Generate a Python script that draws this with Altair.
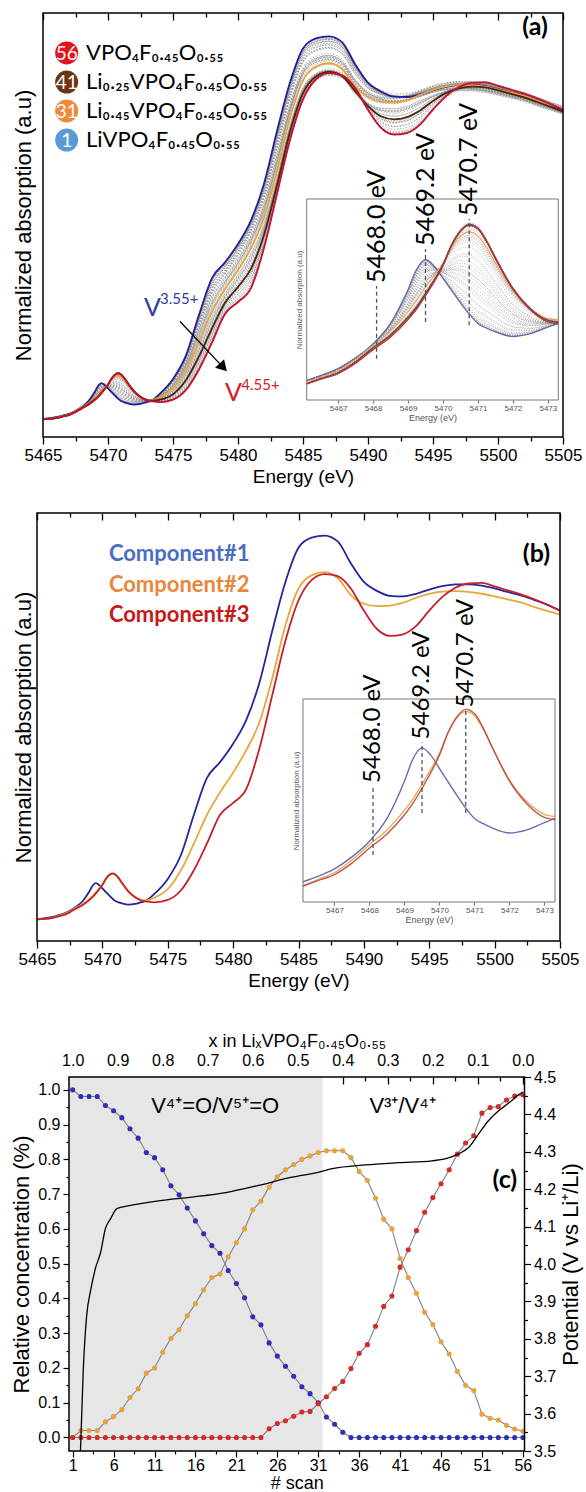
import altair as alt
import numpy as np
import pandas as pd

alt.data_transformers.disable_max_rows()

# ---------------------------------------------------------------------------
# Panels (a)/(b): energy grid (eV) and the three MCR components (normalized absorption)
# ---------------------------------------------------------------------------
energy = [5465, 5466.1, 5466.5, 5467, 5467.5, 5468, 5468.5, 5469, 5469.25, 5469.5,
          5469.75, 5470, 5470.25, 5470.5, 5470.75, 5471, 5471.25, 5471.5, 5472, 5472.5,
          5473, 5473.3, 5474, 5475, 5476, 5477, 5478, 5479, 5480, 5481,
          5482, 5483, 5484, 5485, 5486, 5487, 5488, 5489, 5490, 5491,
          5492, 5493, 5494, 5495, 5496, 5497, 5498, 5499, 5500, 5501,
          5502, 5503, 5504, 5505]

comp1 = [0.053, 0.061, 0.066, 0.0735, 0.085, 0.100, 0.122, 0.158, 0.180, 0.190,
         0.183, 0.170, 0.157, 0.144, 0.132, 0.122, 0.117, 0.113, 0.108, 0.111,
         0.118, 0.122, 0.150, 0.206, 0.296, 0.450, 0.590, 0.650, 0.720, 0.810,
         0.950, 1.150, 1.335, 1.465, 1.503, 1.511, 1.489, 1.406, 1.335, 1.301,
         1.282, 1.280, 1.290, 1.306, 1.319, 1.326, 1.326, 1.321, 1.310, 1.297,
         1.284, 1.267, 1.249, 1.226]

comp2 = [0.052, 0.057, 0.063, 0.070, 0.082, 0.097, 0.111, 0.130, 0.141, 0.155,
         0.169, 0.185, 0.205, 0.219, 0.225, 0.221, 0.208, 0.191, 0.159, 0.138,
         0.126, 0.124, 0.135, 0.167, 0.238, 0.340, 0.450, 0.535, 0.610, 0.695,
         0.800, 0.970, 1.170, 1.310, 1.360, 1.372, 1.350, 1.285, 1.252, 1.243,
         1.245, 1.256, 1.275, 1.290, 1.298, 1.300, 1.297, 1.290, 1.280, 1.269,
         1.257, 1.240, 1.225, 1.211]

comp3 = [0.052, 0.057, 0.062, 0.068, 0.079, 0.0935, 0.107, 0.1256, 0.137, 0.151,
         0.166, 0.183, 0.205, 0.220, 0.227, 0.223, 0.209, 0.191, 0.158, 0.136,
         0.123, 0.121, 0.117, 0.126, 0.162, 0.239, 0.341, 0.450, 0.495, 0.547,
         0.700, 0.906, 1.111, 1.265, 1.342, 1.365, 1.357, 1.310, 1.226, 1.156,
         1.130, 1.136, 1.168, 1.226, 1.278, 1.313, 1.329, 1.331, 1.318, 1.303,
         1.288, 1.270, 1.249, 1.226]

comp_names = ["Component#1", "Component#2", "Component#3"]

# ---------------------------------------------------------------------------
# Panel (c): relative concentration of each component for the 56 scans
# ---------------------------------------------------------------------------
scans = list(range(1, 57))
conc1 = [1.0, 0.981, 0.981, 0.981, 0.955, 0.94, 0.92, 0.888, 0.861, 0.82,
         0.805, 0.77, 0.724, 0.698, 0.66, 0.623, 0.586, 0.552, 0.53, 0.48,
         0.443, 0.402, 0.347, 0.324, 0.272, 0.234, 0.205, 0.176, 0.146, 0.126,
         0.10, 0.059, 0.038, 0.015, 0.0, 0.0, 0.0, 0.0, 0.0, 0.0,
         0.0, 0.0, 0.0, 0.0, 0.0, 0.0, 0.0, 0.0, 0.0, 0.0,
         0.0, 0.0, 0.0, 0.0, 0.0, 0.0]
conc2 = [0.0, 0.02, 0.02, 0.02, 0.045, 0.06, 0.08, 0.115, 0.14, 0.185,
         0.20, 0.245, 0.285, 0.31, 0.35, 0.385, 0.425, 0.46, 0.47, 0.52,
         0.56, 0.60, 0.655, 0.68, 0.72, 0.75, 0.77, 0.785, 0.80, 0.81,
         0.82, 0.825, 0.825, 0.825, 0.805, 0.765, 0.74, 0.688, 0.628, 0.60,
         0.515, 0.46, 0.415, 0.36, 0.325, 0.275, 0.24, 0.19, 0.15, 0.135,
         0.067, 0.055, 0.05, 0.035, 0.024, 0.018]
conc3 = [0.0, 0.0, 0.0, 0.0, 0.0, 0.0, 0.0, 0.0, 0.0, 0.0,
         0.0, 0.0, 0.0, 0.0, 0.0, 0.0, 0.0, 0.0, 0.0, 0.0,
         0.0, 0.0, 0.0, 0.0, 0.025, 0.04, 0.048, 0.061, 0.073, 0.075,
         0.097, 0.117, 0.141, 0.161, 0.198, 0.242, 0.267, 0.32, 0.377, 0.407,
         0.49, 0.54, 0.595, 0.648, 0.69, 0.73, 0.77, 0.815, 0.847, 0.868,
         0.933, 0.949, 0.952, 0.971, 0.982, 0.986]

# potential (V vs Li+/Li) along the scans
pot_scan = [1.95, 2.3, 2.7, 3.2, 3.8, 4.4, 5.0, 5.6, 6.4, 7.9,
            11.5, 15.6, 19.7, 23.7, 27.8, 31.0, 32.7, 36.8, 40.8, 44.9,
            46.5, 48.2, 49.4, 50.6, 51.8, 53.0, 54.3, 55.5, 56.0]
pot_volt = [3.50, 3.72, 3.86, 3.93, 3.99, 4.03, 4.095, 4.12, 4.148, 4.156,
            4.169, 4.179, 4.191, 4.21, 4.232, 4.245, 4.255, 4.265, 4.271, 4.276,
            4.281, 4.295, 4.312, 4.348, 4.383, 4.409, 4.431, 4.453, 4.46]

# highlighted scans of panel (a)
hl_scans = [56, 41, 31, 1]
hl_labels = ["VPO₄F₀.₄₅O₀.₅₅", "Li₀.₂₅VPO₄F₀.₄₅O₀.₅₅",
             "Li₀.₄₅VPO₄F₀.₄₅O₀.₅₅", "LiVPO₄F₀.₄₅O₀.₅₅"]

# pre-edge annotations
pe_energy = [5468.1, 5469.5, 5470.75]
pe_labels = ["5468.0 eV", "5469.2 eV", "5470.7 eV"]

# tick values
e_ticks = [5465, 5467.5, 5470, 5472.5, 5475, 5477.5, 5480, 5482.5, 5485, 5487.5,
           5490, 5492.5, 5495, 5497.5, 5500, 5502.5, 5505]
ins_ticks = [5467, 5468, 5469, 5470, 5471, 5472, 5473]
scan_ticks = [1, 3.5, 6, 8.5, 11, 13.5, 16, 18.5, 21, 23.5, 26, 28.5, 31, 33.5,
              36, 38.5, 41, 43.5, 46, 48.5, 51, 53.5, 56]
frac_ticks = [0.0, 0.05, 0.1, 0.15, 0.2, 0.25, 0.3, 0.35, 0.4, 0.45, 0.5,
              0.55, 0.6, 0.65, 0.7, 0.75, 0.8, 0.85, 0.9, 0.95, 1.0]
volt_ticks = [3.5, 3.55, 3.6, 3.65, 3.7, 3.75, 3.8, 3.85, 3.9, 3.95, 4.0,
              4.05, 4.1, 4.15, 4.2, 4.25, 4.3, 4.35, 4.4, 4.45, 4.5]

# ---------------------------------------------------------------------------
# derived tables
# ---------------------------------------------------------------------------
C = np.array([comp1, comp2, comp3])
W = np.array([conc1, conc2, conc3]).T
mix = W @ C
spectra = pd.DataFrame([{"E": e, "mu": float(mix[i, j]), "scan": s}
                        for i, s in enumerate(scans) for j, e in enumerate(energy)])
comps = pd.DataFrame([{"E": e, "mu": v, "comp": n}
                      for n, arr in zip(comp_names, [comp1, comp2, comp3])
                      for e, v in zip(energy, arr)])
conc = pd.DataFrame([{"scan": s, "c": v, "comp": n}
                     for n, arr in zip(comp_names, [conc1, conc2, conc3])
                     for s, v in zip(scans, arr)])
pot = pd.DataFrame({"scan": pot_scan, "V": pot_volt})

# ---------------------------------------------------------------------------
# canvas and panel geometry
# ---------------------------------------------------------------------------
CW, CH = 586, 1492
FA = "Liberation Sans"
FT = "Lato"
E_LO, E_HI = 5466.1, 5473.3


def S(domain, rng):
    return alt.Scale(domain=domain, range=rng, nice=False, zero=False)


XA = S([5465, 5505], [43, 563]);          YA = S([-0.0152, 1.6], [437, 13])
XIA = S([E_LO, E_HI], [306.7, 558.3]);    YIA = S([0.040, 0.255], [400, 199])
XB = S([5465, 5505], [37, 560]);          YB = S([-0.03, 1.597], [941, 513])
XIB = S([E_LO, E_HI], [303, 555]);        YIB = S([0.0416, 0.237], [902, 699])
XC = S([0.55, 56.2], [69, 524.5]);        YC = S([-0.039, 1.037], [1451, 1077])
YV = S([3.5, 4.5], [1451, 1077]);         XL = S([-0.0036, 1.0082], [524.5, 69])


def tsize(test, major, minor):
    return {"condition": {"test": test, "value": major}, "value": minor}


E_MAJ = "datum.value % 5 === 0"
F_MAJ = "round(datum.value * 100) % 10 === 0"
S_MAJ = "(datum.value - 1) % 5 === 0"


def energy_axis(ypix):
    return alt.Axis(orient="bottom", offset=ypix - CH, values=e_ticks, format="d",
                    labelExpr=f"{E_MAJ} ? datum.label : ''",
                    tickSize=tsize(E_MAJ, 7, 4), tickWidth=1.3,
                    labelFlush=False, labelOverlap=False, domain=False, grid=False,
                    labelFontSize=17, labelPadding=3,
                    title="Energy (eV)", titleFontSize=19, titlePadding=4)


def inner_ticks(values, test, ypix):
    return alt.Axis(orient="bottom", offset=ypix - CH, values=values, labels=False,
                    tickSize=tsize(test, 7, 4), tickWidth=1.3,
                    domain=False, grid=False, title=None)


def absorb_axis(xpix, pad):
    return alt.Axis(orient="left", offset=-xpix, labels=False, ticks=False, domain=False,
                    grid=False, title="Normalized absorption (a.u)", titleFontSize=22,
                    titlePadding=pad)


def inset_x_axis(ypix):
    return alt.Axis(orient="bottom", offset=ypix - CH, values=ins_ticks, format="d",
                    tickSize=3, tickColor="#777777", labelFontSize=8, labelColor="#555555",
                    labelPadding=1, labelFlush=False, domain=False, grid=False,
                    title="Energy (eV)", titleFontSize=9, titleColor="#555555", titlePadding=1)


def inset_y_axis(xpix):
    return alt.Axis(orient="left", offset=-xpix, labels=False, ticks=False, domain=False,
                    grid=False, title="Normalized absorption (a.u)", titleFontSize=8,
                    titleColor="#555555", titlePadding=3)


def box(xs, ys, fill, stroke, width, xaxis=None, yaxis=None):
    d = pd.DataFrame({"x0": [xs.domain[0]], "x1": [xs.domain[1]],
                      "y0": [ys.domain[0]], "y1": [ys.domain[1]]})
    return alt.Chart(d).mark_rect(fill=fill, fillOpacity=1 if fill != "white" else 1,
                                  stroke=stroke, strokeWidth=width).encode(
        x=alt.X("x0:Q", scale=xs, axis=xaxis), x2="x1:Q",
        y=alt.Y("y0:Q", scale=ys, axis=yaxis), y2="y1:Q")


def frame(xs, ys, xaxis=None, yaxis=None):
    d = pd.DataFrame({"x0": [xs.domain[0]], "x1": [xs.domain[1]],
                      "y0": [ys.domain[0]], "y1": [ys.domain[1]]})
    return alt.Chart(d).mark_rect(fillOpacity=0, stroke="black", strokeWidth=1.5).encode(
        x=alt.X("x0:Q", scale=xs, axis=xaxis), x2="x1:Q",
        y=alt.Y("y0:Q", scale=ys, axis=yaxis), y2="y1:Q")


def ticks_only(values, xs, ys, axis):
    d = pd.DataFrame({"x": values, "y": [ys.domain[0]] * len(values)})
    return alt.Chart(d).mark_point(opacity=0, size=1).encode(
        x=alt.X("x:Q", scale=xs, axis=axis), y=alt.Y("y:Q", scale=ys, axis=None))


def text_layer(df, xs, ys, xf, yf, tf, **kw):
    return alt.Chart(df).mark_text(**kw).encode(
        x=alt.X(xf, scale=xs, axis=None), y=alt.Y(yf, scale=ys, axis=None), text=tf)


def inset_layers(df_gray, df_hl, hl_field, hl_dom, hl_rng, xs, ys, xpix, ypix,
                 pe_top, pe_bot, pe_size):
    d = pd.DataFrame({"x0": [xs.domain[0]], "x1": [xs.domain[1]],
                      "y0": [ys.domain[0]], "y1": [ys.domain[1]]})
    layers = [alt.Chart(d).mark_rect(fill="white", stroke="#777777", strokeWidth=1).encode(
        x=alt.X("x0:Q", scale=xs, axis=inset_x_axis(ypix)), x2="x1:Q",
        y=alt.Y("y0:Q", scale=ys, axis=inset_y_axis(xpix)), y2="y1:Q")]
    if df_gray is not None:
        layers.append(alt.Chart(df_gray).mark_line(
            color="#9a9a9a", strokeWidth=0.7, strokeDash=[1, 1.5], interpolate="monotone").encode(
            x=alt.X("E:Q", scale=xs, axis=None), y=alt.Y("mu:Q", scale=ys, axis=None),
            detail="scan:N"))
    layers.append(alt.Chart(df_hl).mark_line(strokeWidth=1.4, opacity=0.9,
                                             interpolate="monotone").encode(
        x=alt.X("E:Q", scale=xs, axis=None), y=alt.Y("mu:Q", scale=ys, axis=None),
        color=alt.Color(hl_field, scale=alt.Scale(domain=hl_dom, range=hl_rng), legend=None),
        detail=hl_field))
    pe = pd.DataFrame({"E": pe_energy, "top": pe_top, "bot": pe_bot, "label": pe_labels})
    layers.append(alt.Chart(pe).mark_rule(color="#555555", strokeDash=[4, 3],
                                          strokeWidth=1.3).encode(
        x=alt.X("E:Q", scale=xs, axis=None), y=alt.Y("bot:Q", scale=ys, axis=None),
        y2="top:Q"))
    layers.append(text_layer(pe, xs, ys, "E:Q", "top:Q", "label:N", angle=270, align="left",
                             baseline="middle", font=FT, fontSize=pe_size, dx=3,
                             color="black"))
    return layers


# ---------------------------------------------------------------------------
# Panel (a)
# ---------------------------------------------------------------------------
gray_df = spectra[~spectra.scan.isin(hl_scans)]
hl_df = spectra[spectra.scan.isin(hl_scans)]

a_gray = alt.Chart(gray_df).mark_line(color="#8c8c8c", strokeWidth=0.8, strokeDash=[1.5, 1.5],
                                      opacity=0.85, interpolate="monotone").encode(
    x=alt.X("E:Q", scale=XA, axis=None), y=alt.Y("mu:Q", scale=YA, axis=None),
    detail="scan:N")
a_hl = alt.Chart(hl_df).mark_line(strokeWidth=1.8, interpolate="monotone").encode(
    x=alt.X("E:Q", scale=XA, axis=None), y=alt.Y("mu:Q", scale=YA, axis=None),
    color=alt.Color("scan:N", scale=alt.Scale(domain=hl_scans,
                    range=["#c8102e", "#4e220c", "#e8a33d", "#1f1f9c"]), legend=None),
    detail="scan:N")

leg = pd.DataFrame({"scan": hl_scans, "num": [str(s) for s in hl_scans], "label": hl_labels,
                    "Ec": [5466.82] * 4, "Et": [5468.31] * 4,
                    "mu": [1.448, 1.337, 1.227, 1.116]})
a_leg_c = alt.Chart(leg).mark_circle(size=530, opacity=1).encode(
    x=alt.X("Ec:Q", scale=XA, axis=None), y=alt.Y("mu:Q", scale=YA, axis=None),
    color=alt.Color("scan:N", scale=alt.Scale(domain=hl_scans,
                    range=["#e3141b", "#6a3612", "#ee8a3a", "#5b9bd5"]), legend=None))
a_leg_n = text_layer(leg, XA, YA, "Ec:Q", "mu:Q", "num:N", font=FT, fontSize=19,
                     color="white", align="center", baseline="middle", dy=1)
a_leg_t = text_layer(leg, XA, YA, "Et:Q", "mu:Q", "label:N", font=FT, fontSize=22,
                     color="black", align="left", baseline="middle")

ox_layers = []
for ev, mv, es, ms, sup, col in [(5472.77, 0.444, 5474.0, 0.490, "3.55+", "#2e3f9e"),
                                 (5479.0, 0.122, 5480.25, 0.162, "4.55+", "#d0202a")]:
    d = pd.DataFrame({"Ev": [ev], "mv": [mv], "Es": [es], "ms": [ms], "sup": [sup], "v": ["V"]})
    ox_layers.append(text_layer(d, XA, YA, "Ev:Q", "mv:Q", "v:N", font=FT, fontSize=25,
                                color=col, align="left", baseline="alphabetic"))
    ox_layers.append(text_layer(d, XA, YA, "Es:Q", "ms:Q", "sup:N", font=FT, fontSize=15,
                                color=col, align="left", baseline="alphabetic"))

arr = pd.DataFrame({"E1": [5475.54], "m1": [0.425], "E2": [5478.77], "m2": [0.255]})
a_arr = alt.Chart(arr).mark_rule(color="black", strokeWidth=1.3).encode(
    x=alt.X("E1:Q", scale=XA, axis=None), y=alt.Y("m1:Q", scale=YA, axis=None),
    x2="E2:Q", y2="m2:Q")
a_head = alt.Chart(arr).mark_point(shape="triangle", angle=137, size=150, filled=True,
                                   color="black", opacity=1).encode(
    x=alt.X("E2:Q", scale=XA, axis=None), y=alt.Y("m2:Q", scale=YA, axis=None))
a_tag = text_layer(pd.DataFrame({"E": [5502.85], "mu": [1.547], "t": ["(a)"]}), XA, YA,
                   "E:Q", "mu:Q", "t:N", font=FT, fontSize=25, fontWeight="bold",
                   align="center", baseline="middle")

in_mask = (spectra.E >= E_LO) & (spectra.E <= E_HI)
inset_a = inset_layers(gray_df[in_mask[gray_df.index]], hl_df[in_mask[hl_df.index]],
                       "scan:N", hl_scans, ["#b5303a", "#6b3a26", "#e6a860", "#5a5aa8"],
                       XIA, YIA, 306.7, 400,
                       [0.162, 0.2016, 0.2337], [0.084, 0.1235, 0.120], 25)

layers_a = [a_gray, a_hl, a_leg_c, a_leg_n, a_leg_t, *ox_layers, a_arr, a_head, a_tag,
            *inset_a,
            ticks_only(e_ticks, XA, YA, inner_ticks(e_ticks, E_MAJ, 13)),
            frame(XA, YA, energy_axis(437), absorb_axis(43, 8))]

# ---------------------------------------------------------------------------
# Panel (b)
# ---------------------------------------------------------------------------
b_lines = alt.Chart(comps).mark_line(strokeWidth=1.8, interpolate="monotone").encode(
    x=alt.X("E:Q", scale=XB, axis=None), y=alt.Y("mu:Q", scale=YB, axis=None),
    color=alt.Color("comp:N", scale=alt.Scale(domain=comp_names,
                    range=["#25259a", "#e8a838", "#c8202a"]), legend=None),
    detail="comp:N")
legb = pd.DataFrame({"comp": comp_names, "E": [5470.5] * 3, "mu": [1.441, 1.323, 1.211]})
b_leg = alt.Chart(legb).mark_text(font=FT, fontSize=22, fontWeight="bold", align="left",
                                  baseline="middle").encode(
    x=alt.X("E:Q", scale=XB, axis=None), y=alt.Y("mu:Q", scale=YB, axis=None), text="comp:N",
    color=alt.Color("comp:N", scale=alt.Scale(domain=comp_names,
                    range=["#4a6cc4", "#e8863c", "#c81818"]), legend=None))
b_tag = text_layer(pd.DataFrame({"E": [5503.2], "mu": [1.441], "t": ["(b)"]}), XB, YB,
                   "E:Q", "mu:Q", "t:N", font=FT, fontSize=25, fontWeight="bold",
                   align="center", baseline="middle")

comps_in = comps[(comps.E >= E_LO) & (comps.E <= E_HI)]
inset_b = inset_layers(None, comps_in, "comp:N", comp_names,
                       ["#5a5aa6", "#e6a24e", "#b8443c"], XIB, YIB, 303, 902,
                       [0.1533, 0.1952, 0.2259], [0.0869, 0.1273, 0.1273], 24)

layers_b = [b_lines, b_leg, b_tag, *inset_b,
            ticks_only(e_ticks, XB, YB, inner_ticks(e_ticks, E_MAJ, 513)),
            frame(XB, YB, energy_axis(941), absorb_axis(37, 2))]

# ---------------------------------------------------------------------------
# Panel (c)
# ---------------------------------------------------------------------------
scan_axis = alt.Axis(orient="bottom", offset=1451 - CH, values=scan_ticks, format="d",
                     labelExpr=f"{S_MAJ} ? datum.label : ''", tickSize=tsize(S_MAJ, 6, 3),
                     labelFlush=False, labelOverlap=False, domain=False, grid=False,
                     labelFontSize=16, labelPadding=0, title="# scan", titleFontSize=18,
                     titlePadding=1)
conc_axis = alt.Axis(orient="left", offset=-69, values=frac_ticks, format=".1f",
                     labelExpr=f"{F_MAJ} ? datum.label : ''", tickSize=tsize(F_MAJ, 6, 3),
                     labelFlush=False, labelOverlap=False, domain=False, grid=False,
                     labelFontSize=16, labelPadding=3, title="Relative concentration (%)",
                     titleFontSize=22, titlePadding=4)
volt_axis = alt.Axis(orient="right", offset=524.5 - CW, values=volt_ticks, format=".1f",
                     labelExpr=f"{F_MAJ} ? datum.label : ''", tickSize=tsize(F_MAJ, 6, 3),
                     labelFlush=False, labelOverlap=False, domain=False, grid=False,
                     labelFontSize=16, labelPadding=3, title="Potential (V vs Li⁺/Li)",
                     titleFontSize=22, titlePadding=5, titleAngle=270, titleBaseline="top")
li_axis = alt.Axis(orient="top", offset=-1077, values=frac_ticks, format=".1f",
                   labelExpr=f"{F_MAJ} ? datum.label : ''", ticks=False,
                   labelFlush=False, labelOverlap=False, domain=False, grid=False,
                   labelFontSize=16, labelPadding=9, title="x in LiₓVPO₄F₀.₄₅O₀.₅₅",
                   titleFontSize=18, titlePadding=2)

shade = alt.Chart(pd.DataFrame({"s0": [0.55], "s1": [31.5], "c0": [-0.039], "c1": [1.037]})
                  ).mark_rect(color="#e6e6e6").encode(
    x=alt.X("s0:Q", scale=XC, axis=None), x2="s1:Q",
    y=alt.Y("c0:Q", scale=YC, axis=None), y2="c1:Q")
c_lines = alt.Chart(conc).mark_line(color="#808080", strokeWidth=1.1).encode(
    x=alt.X("scan:Q", scale=XC, axis=None), y=alt.Y("c:Q", scale=YC, axis=None),
    detail="comp:N")
c_dots = alt.Chart(conc).mark_circle(size=26, opacity=1).encode(
    x=alt.X("scan:Q", scale=XC, axis=None), y=alt.Y("c:Q", scale=YC, axis=None),
    color=alt.Color("comp:N", scale=alt.Scale(domain=comp_names,
                    range=["#2e2eb8", "#e9a23b", "#d42a2a"]), legend=None))
c_txt = text_layer(pd.DataFrame({"s": [18.4, 41.3], "c": [0.954, 0.954],
                                 "t": ["V⁴⁺=O/V⁵⁺=O", "V³⁺/V⁴⁺"]}), XC, YC,
                   "s:Q", "c:Q", "t:N", font=FA, fontSize=22, align="center",
                   baseline="middle")
c_tag = text_layer(pd.DataFrame({"s": [53.8], "c": [0.741], "t": ["(c)"]}), XC, YC,
                   "s:Q", "c:Q", "t:N", font=FT, fontSize=25, fontWeight="bold",
                   align="center", baseline="middle")
pot_line = alt.Chart(pot).mark_line(color="black", strokeWidth=1.3,
                                    interpolate="monotone").encode(
    x=alt.X("scan:Q", scale=XC, axis=None), y=alt.Y("V:Q", scale=YV, axis=volt_axis))

layers_c = [shade, c_lines, c_dots, c_txt, c_tag, pot_line,
            ticks_only(frac_ticks, XL, YC, li_axis),
            ticks_only(frac_ticks, XL, YC, inner_ticks(frac_ticks, F_MAJ, 1077)),
            frame(XC, YC, scan_axis, conc_axis)]

# ---------------------------------------------------------------------------
# one canvas holding the three panels
# ---------------------------------------------------------------------------
chart = alt.layer(*layers_a, *layers_b, *layers_c).resolve_scale(
    x="independent", y="independent", color="independent"
).properties(
    width=CW, height=CH, autosize=alt.AutoSizeParams(type="none"), padding=0,
    background="white"
).configure_view(strokeWidth=0).configure_axis(
    labelFont=FA, titleFont=FA, labelColor="black", titleColor="black",
    tickColor="black", titleFontWeight="normal", tickWidth=1.2)

chart.save("out.html", embed_options={"renderer": "svg", "actions": False})
